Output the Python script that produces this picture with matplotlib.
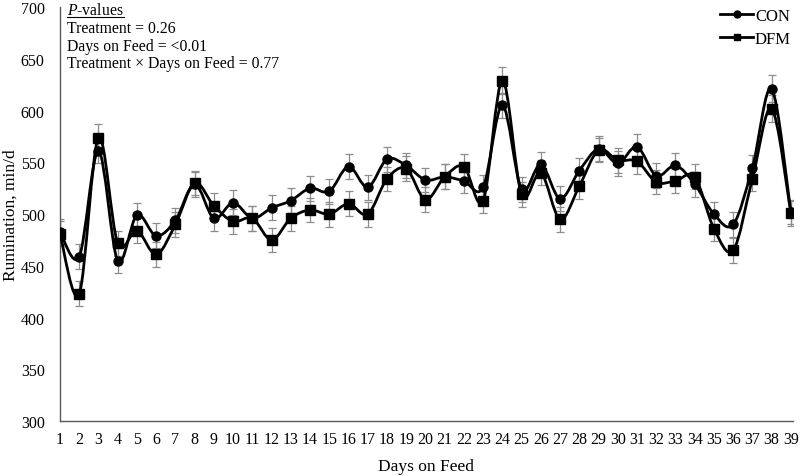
import numpy as np
import matplotlib
matplotlib.use('Agg')
import matplotlib.pyplot as plt
from matplotlib.path import Path
from matplotlib.patches import PathPatch
from matplotlib.lines import Line2D

plt.rcParams['font.family'] = ['Liberation Serif', 'DejaVu Serif']
plt.rcParams['mathtext.fontset'] = 'custom'
plt.rcParams['mathtext.rm'] = 'Liberation Serif'
plt.rcParams['mathtext.it'] = 'Liberation Serif:italic'

days = list(range(1, 40))
con = [483, 459, 561, 455, 499, 479, 494, 529, 496, 511, 496, 506, 513, 525, 522, 546,
       526, 553, 547, 533, 536, 532, 526, 605, 524, 548, 515, 542, 563, 549, 565, 537,
       547, 529, 500, 490, 545, 621, 502]
dfm = [481, 423, 574, 472, 484, 461, 490, 530, 508, 493, 496, 475, 496, 504, 500, 510,
       500, 534, 544, 514, 536, 546, 513, 629, 519, 540, 495, 527, 562, 552, 551, 531,
       532, 536, 486, 465, 534, 602, 501]
con_se = [12, 12, 12, 12, 12, 12, 12, 12, 12, 12, 12, 12, 12, 12, 12, 12,
          12, 12, 12, 12, 12, 12, 12, 12, 12, 12, 12, 12, 12, 12, 12, 12,
          12, 12, 12, 12, 12, 13, 12]
dfm_se = [12, 12, 13, 12, 12, 12, 12, 12, 12, 12, 12, 12, 12, 12, 12, 12,
          12, 12, 12, 12, 12, 12, 12, 13, 12, 12, 12, 12, 12, 12, 12, 12,
          12, 12, 12, 12, 12, 13, 12]


def smooth_path(x, y):
    # Excel-style smoothed line: cubic bezier through every point
    x = np.asarray(x, float)
    y = np.asarray(y, float)
    pts = np.column_stack([x, y])
    verts = [pts[0]]
    codes = [Path.MOVETO]
    n = len(pts)
    for i in range(n - 1):
        p0 = pts[i - 1] if i > 0 else pts[i]
        p1 = pts[i]
        p2 = pts[i + 1]
        p3 = pts[i + 2] if i + 2 < n else pts[i + 1]
        c1 = p1 + (p2 - p0) / 6.0
        c2 = p2 - (p3 - p1) / 6.0
        verts += [c1, c2, p2]
        codes += [Path.CURVE4] * 3
    return Path(verts, codes)


fig = plt.figure(figsize=(8, 4.77), dpi=100)
ax = fig.add_axes([0.075, 0.115, 0.916, 0.868])

for vals, se, mk, ms in [(con, con_se, 'o', 6.5), (dfm, dfm_se, 's', 7)]:
    ax.errorbar(days, vals, yerr=se, fmt='none', ecolor='#8c8c8c', elinewidth=0.9,
                capsize=3, capthick=0.9, zorder=2)
    ax.add_patch(PathPatch(smooth_path(days, vals), fill=False, lw=2, ec='black', zorder=3))
    ax.plot(days, vals, ls='none', marker=mk, ms=ms, color='black', zorder=4)

ax.set_xlim(1, 39.1)
ax.set_ylim(300, 700)
ax.set_xticks(days)
ax.set_yticks(range(300, 701, 50))
ax.tick_params(length=0, labelsize=11.5, colors='black')
ax.tick_params(axis='x', pad=7)
ax.tick_params(axis='y', pad=11)
for s in ['top', 'right']:
    ax.spines[s].set_visible(False)
for s in ['left', 'bottom']:
    ax.spines[s].set_color('#595959')
    ax.spines[s].set_linewidth(1)
ax.set_xlabel('Days on Feed', fontsize=12.5, labelpad=8)
ax.set_ylabel('Rumination, min/d', fontsize=12.5)
ax.yaxis.set_label_coords(-0.056, 0.5)

# P-values text block
t = fig.text(0.084, 0.993, r'$\it{P}$-values', fontsize=11.3, va='top', ha='left')
lines = ['Treatment = 0.26', 'Days on Feed = <0.01', 'Treatment \u00d7 Days on Feed = 0.77']
for i, s in enumerate(lines):
    fig.text(0.084, 0.956 - i * 0.037, s, fontsize=11.3, va='top', ha='left')
fig.canvas.draw()
bb = t.get_window_extent().transformed(fig.transFigure.inverted())
fig.add_artist(Line2D([bb.x0, bb.x1], [bb.y0 + 0.002, bb.y0 + 0.002], lw=0.8, color='black',
                      transform=fig.transFigure))

h1 = Line2D([], [], color='black', lw=2, marker='o', ms=5)
h2 = Line2D([], [], color='black', lw=2, marker='s', ms=5)
leg = ax.legend([h1, h2], ['CON', 'DFM'], loc='upper right', bbox_to_anchor=(1.018, 1.035),
                frameon=False, fontsize=12, handlelength=2.0, handletextpad=0.1,
                labelspacing=0.45)

fig.savefig('out.png', dpi=100)
